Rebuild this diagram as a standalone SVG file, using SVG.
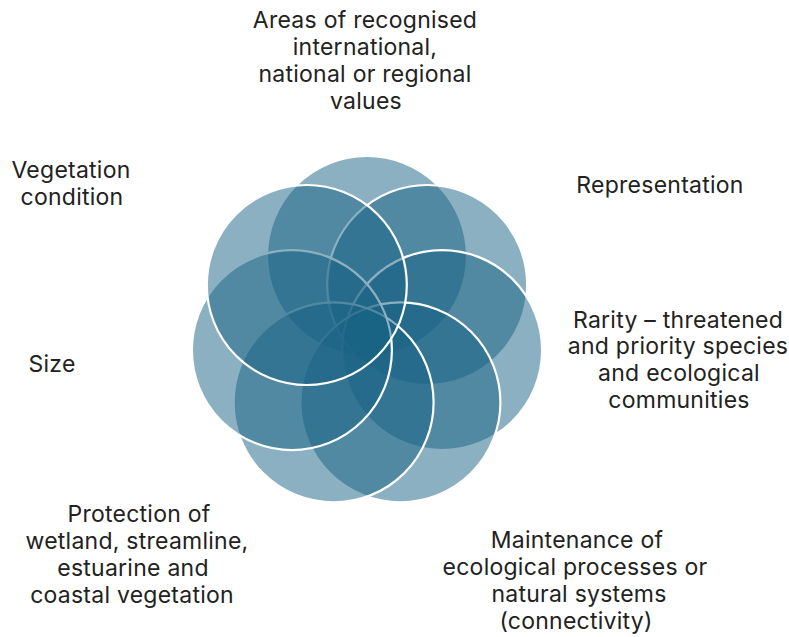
<svg xmlns="http://www.w3.org/2000/svg" width="789" height="637" viewBox="0 0 789 637">
<style>
.c{fill:#176183;fill-opacity:0.5;stroke:#ffffff;stroke-width:2.2}
.t{font-family:Inter,"Liberation Sans",sans-serif;font-size:23px;letter-spacing:0.25px;fill:#222222;text-anchor:middle}
</style>
<rect width="789" height="637" fill="#ffffff"/>
<g id="circles">
<g id="n-areas"><circle class="c" cx="367" cy="256" r="100"/></g>
<g id="n-representation"><circle class="c" cx="427.2" cy="285" r="100"/></g>
<g id="n-rarity"><circle class="c" cx="442.1" cy="350.1" r="100"/></g>
<g id="n-maintenance"><circle class="c" cx="400.4" cy="402.4" r="100"/></g>
<g id="n-protection"><circle class="c" cx="333.6" cy="402.4" r="100"/></g>
<g id="n-size"><circle class="c" cx="291.9" cy="350.1" r="100"/></g>
<g id="n-vegetation"><circle class="c" cx="306.8" cy="285" r="100"/></g>
</g>
<g id="connectors"></g>
<g id="labels">
<g id="l-areas"><text class="t" x="365" y="28">Areas of recognised</text><text class="t" x="365" y="55">international,</text><text class="t" x="365" y="82">national or regional</text><text class="t" x="366" y="109">values</text></g>
<g id="l-representation"><text class="t" x="660" y="193">Representation</text></g>
<g id="l-rarity"><text class="t" x="678" y="328">Rarity – threatened</text><text class="t" x="678" y="354">and priority species</text><text class="t" x="679" y="381">and ecological</text><text class="t" x="679" y="408">communities</text></g>
<g id="l-maintenance"><text class="t" x="577" y="548">Maintenance of</text><text class="t" x="575" y="575">ecological processes or</text><text class="t" x="579" y="602">natural systems</text><text class="t" x="576" y="629">(connectivity)</text></g>
<g id="l-protection"><text class="t" x="139" y="522">Protection of</text><text class="t" x="137" y="549">wetland, streamline,</text><text class="t" x="133" y="576">estuarine and</text><text class="t" x="132" y="603">coastal vegetation</text></g>
<g id="l-size"><text class="t" x="52" y="372">Size</text></g>
<g id="l-vegetation"><text class="t" x="71" y="178">Vegetation</text><text class="t" x="72" y="205">condition</text></g>
</g>
</svg>
